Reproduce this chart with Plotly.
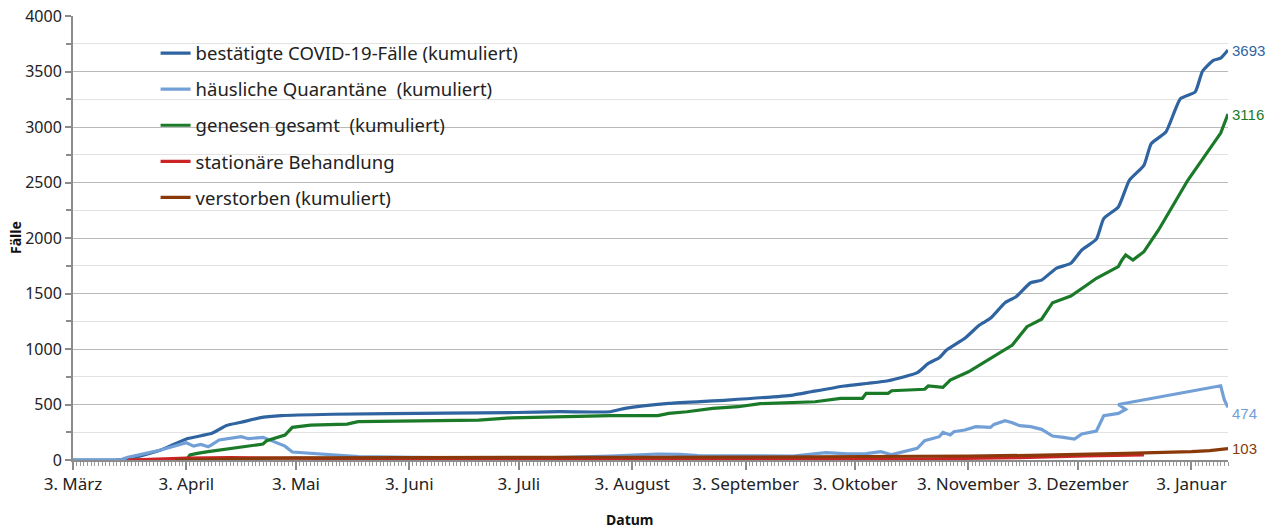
import plotly.graph_objects as go

# ---------------- data ----------------
confirmed_dates = ["2020-03-03","2020-03-16","2020-03-19","2020-03-27","2020-04-03","2020-04-10","2020-04-14",
    "2020-04-18","2020-04-23","2020-04-29","2020-05-13","2020-06-13","2020-07-02","2020-07-14","2020-07-28",
    "2020-08-01","2020-08-13","2020-08-29","2020-09-16","2020-09-21","2020-09-30","2020-10-12","2020-10-20",
    "2020-10-23","2020-10-26","2020-10-28","2020-11-02","2020-11-06","2020-11-09","2020-11-13","2020-11-16",
    "2020-11-20","2020-11-23","2020-11-27","2020-12-01","2020-12-04","2020-12-08","2020-12-10","2020-12-14",
    "2020-12-17","2020-12-21","2020-12-23","2020-12-27","2020-12-31","2021-01-04","2021-01-06","2021-01-09",
    "2021-01-11","2021-01-13"]
confirmed = [0,2,15,90,190,240,310,340,380,400,412,423,428,435,435,465,510,540,585,615,667,714,787,870,922,990,
    1096,1216,1276,1417,1471,1597,1621,1727,1772,1892,1990,2175,2280,2520,2655,2850,2955,3255,3315,3500,3600,
    3620,3693]

quarantine_dates = ["2020-03-03","2020-03-16","2020-03-18","2020-03-27","2020-04-03","2020-04-05","2020-04-07",
    "2020-04-09","2020-04-10","2020-04-12","2020-04-18","2020-04-20","2020-04-24","2020-04-27","2020-04-30",
    "2020-05-02","2020-05-07","2020-05-11","2020-05-20","2020-06-10","2020-07-10","2020-07-28","2020-08-03",
    "2020-08-10","2020-08-16","2020-08-21","2020-09-16","2020-09-25","2020-10-01","2020-10-06","2020-10-10",
    "2020-10-13","2020-10-20","2020-10-22","2020-10-26","2020-10-27","2020-10-29","2020-10-30","2020-11-02",
    "2020-11-05","2020-11-09","2020-11-10","2020-11-13","2020-11-15","2020-11-17","2020-11-20","2020-11-23",
    "2020-11-26","2020-11-29","2020-12-02","2020-12-04","2020-12-08","2020-12-10","2020-12-14","2020-12-16",
    "2020-12-14","2021-01-11","2021-01-12","2021-01-13"]
quarantine = [0,2,24,90,156,125,140,120,138,180,210,192,204,168,125,72,60,45,30,22,20,35,45,54,51,39,36,66,56,
    58,75,48,105,174,210,249,225,255,270,300,294,321,354,336,309,300,276,216,204,189,234,261,399,420,456,
    500,669,540,474]

recovered_dates = ["2020-03-19","2020-04-03","2020-04-04","2020-04-06","2020-04-09","2020-04-24","2020-04-25",
    "2020-04-30","2020-05-02","2020-05-07","2020-05-17","2020-05-20","2020-05-31","2020-06-22","2020-07-01",
    "2020-07-14","2020-07-28","2020-08-10","2020-08-13","2020-08-18","2020-08-25","2020-09-01","2020-09-07",
    "2020-09-22","2020-09-29","2020-10-05","2020-10-06","2020-10-12","2020-10-13","2020-10-22","2020-10-23",
    "2020-10-27","2020-10-29","2020-11-03","2020-11-10","2020-11-15","2020-11-19","2020-11-23","2020-11-26",
    "2020-12-01","2020-12-05","2020-12-08","2020-12-14","2020-12-15","2020-12-16","2020-12-18","2020-12-21",
    "2020-12-25","2021-01-02","2021-01-09","2021-01-10","2021-01-11","2021-01-13"]
recovered = [0,0,45,60,75,144,174,225,294,315,324,345,350,360,380,390,400,400,420,435,465,480,508,525,555,556,
    600,600,624,637,667,655,720,795,931,1036,1201,1268,1417,1477,1568,1637,1742,1802,1847,1802,1877,2072,
    2520,2850,2890,2945,3116]

hospital_dates = ["2020-03-18","2020-03-25","2020-04-03","2020-04-15","2020-04-25","2020-05-10","2020-06-05",
    "2020-07-05","2020-08-05","2020-09-05","2020-10-01","2020-10-20","2020-11-03","2020-11-17","2020-12-05",
    "2020-12-19","2020-12-21"]
hospital = [0,8,18,22,18,10,6,4,3,3,5,8,12,22,36,46,46]

deaths_dates = ["2020-03-31","2020-04-03","2020-04-10","2020-04-20","2020-05-03","2020-06-03","2020-07-03",
    "2020-08-03","2020-09-03","2020-10-03","2020-10-20","2020-11-03","2020-11-20","2020-12-03","2020-12-16",
    "2021-01-03","2021-01-08","2021-01-13"]
deaths = [0,3,8,13,20,24,25,25,26,28,31,36,42,48,60,75,85,103]

series_names = ["bestätigte COVID-19-Fälle (kumuliert)", "häusliche Quarantäne  (kumuliert)",
                "genesen gesamt  (kumuliert)", "stationäre Behandlung", "verstorben (kumuliert)"]
series_colors = ["#2f64a0", "#72a0d6", "#1a7a28", "#cc2424", "#8a3a0a"]

tick_dates = ["2020-03-03","2020-04-03","2020-05-03","2020-06-03","2020-07-03","2020-08-03","2020-09-03",
              "2020-10-03","2020-11-03","2020-12-03","2021-01-03"]
tick_labels = ["3. März","3. April","3. Mai","3. Juni","3. Juli","3. August","3. September",
               "3. Oktober","3. November","3. Dezember","3. Januar"]

# ---------------- figure ----------------
fig = go.Figure()
all_x = [confirmed_dates, quarantine_dates, recovered_dates, hospital_dates, deaths_dates]
all_y = [confirmed, quarantine, recovered, hospital, deaths]
for i, (xs, ys) in enumerate(zip(all_x, all_y)):
    line = dict(color=series_colors[i], width=3.2)
    if i == 0:
        line.update(shape="spline", smoothing=0.5)
    fig.add_trace(go.Scatter(x=xs, y=ys, mode="lines", name=series_names[i], legendgroup=str(i),
                             line=line))

# end labels
for idx, yv in [(0, confirmed[-1]), (1, quarantine[-1]), (2, recovered[-1]), (4, deaths[-1])]:
    fig.add_annotation(x=all_x[idx][-1], y=yv, text=str(yv), showarrow=False, xanchor="left",
                       xshift=2, yshift=(-6 if idx == 1 else 0),
                       font=dict(family="Liberation Sans, Arial", size=15, color=series_colors[idx]))

# axis titles
fig.add_annotation(xref="paper", yref="paper", x=-0.0502, y=0.5, text="<b>Fälle</b>", textangle=-90,
                   showarrow=False, xanchor="center", yanchor="middle",
                   font=dict(family="Noto Sans", size=14, color="#111111"))
fig.add_annotation(xref="paper", yref="paper", x=0.482, y=-0.133, text="<b>Datum</b>",
                   showarrow=False, xanchor="center", yanchor="middle",
                   font=dict(family="Noto Sans", size=14, color="#111111"))

fig.update_layout(
    width=1277, height=531,
    margin=dict(l=73, r=49, t=16, b=71, autoexpand=False),
    paper_bgcolor="white", plot_bgcolor="white",
    font=dict(family="Noto Sans", size=14, color="#222222"),
    showlegend=True,
    legend=dict(x=0.0715, y=0.958, xanchor="left", yanchor="top", bgcolor="rgba(0,0,0,0)",
                font=dict(family="Noto Sans", size=18.5, color="#222222"),
                tracegroupgap=9, traceorder="grouped"),
    xaxis=dict(
        type="date", range=["2020-03-03", "2021-01-13"], automargin=False,
        tickmode="array", tickvals=tick_dates, ticktext=tick_labels,
        ticks="outside", ticklen=8, tickwidth=1.5, tickcolor="#8c8c8c",
        showline=True, linecolor="#8c8c8c", linewidth=2,
        showgrid=False, zeroline=False,
        tickfont=dict(family="Noto Sans", size=17, color="#222222"),
        minor=dict(tick0="2020-03-03", dtick=86400000, ticks="outside", ticklen=4,
                   tickwidth=1, tickcolor="#9a9a9a", showgrid=False),
    ),
    yaxis=dict(
        range=[0, 4000], tickmode="linear", tick0=0, dtick=500, automargin=False,
        ticks="outside", ticklen=6, tickwidth=1.5, tickcolor="#8c8c8c",
        showline=True, linecolor="#8c8c8c", linewidth=2,
        showgrid=True, gridcolor="#b9b9b9", gridwidth=1, zeroline=False,
        tickfont=dict(family="Noto Sans", size=16, color="#222222"),
        minor=dict(dtick=250, ticks="outside", ticklen=5, tickwidth=1.5, tickcolor="#8c8c8c",
                   showgrid=True, gridcolor="#e2e2e2", gridwidth=1),
    ),
)

fig.write_html("out.html", config={"displayModeBar": False},
               post_script="document.body.style.margin='0';document.body.style.overflow='hidden';")
